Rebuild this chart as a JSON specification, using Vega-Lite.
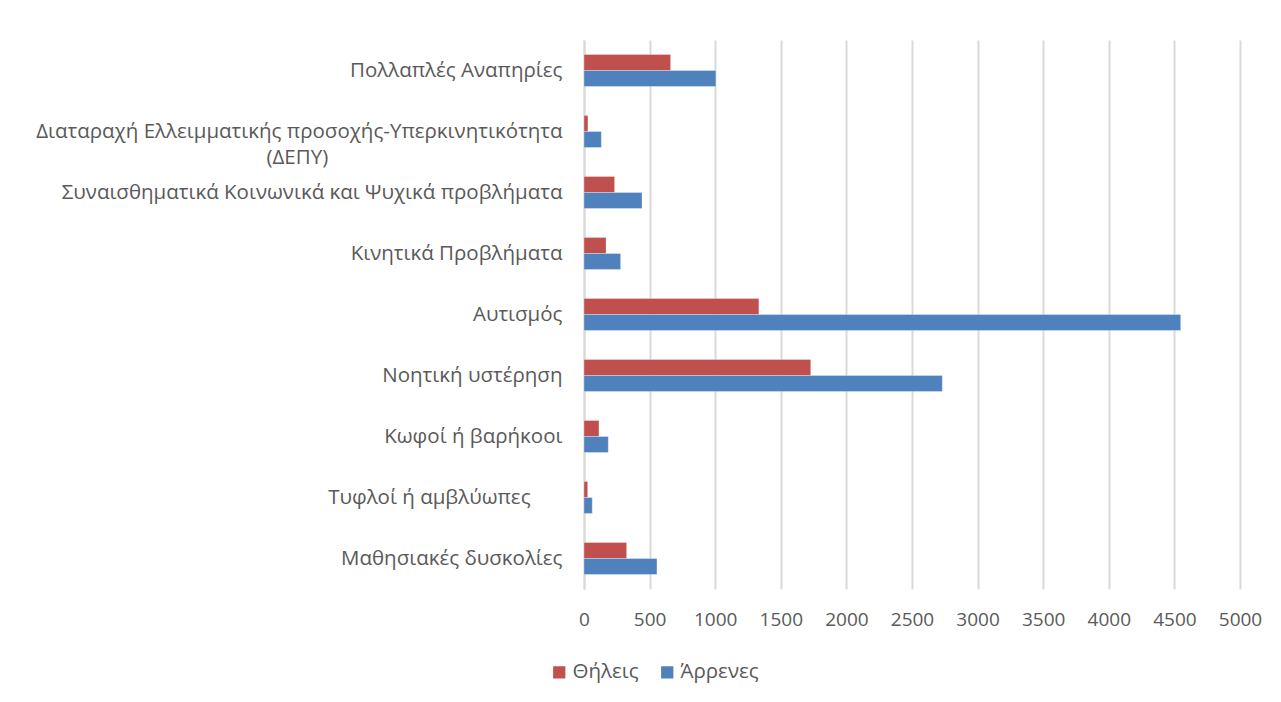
{
  "$schema": "https://vega.github.io/schema/vega-lite/v6.json",
  "autosize": {"type": "none"},
  "width": 656,
  "height": 549,
  "padding": {"left": 584, "top": 40, "right": 41, "bottom": 113},
  "background": "white",
  "config": {
    "font": "Open Sans",
    "view": {"stroke": null},
    "axis": {"labelColor": "#595959", "labelFont": "Open Sans"},
    "legend": {"labelFont": "Open Sans"}
  },
  "data": {
    "values": [
      {"cat": "Πολλαπλές Αναπηρίες", "sex": "Θήλεις", "v": 660},
      {"cat": "Πολλαπλές Αναπηρίες", "sex": "Άρρενες", "v": 1005},
      {"cat": "Διαταραχή Ελλειμματικής προσοχής-Υπερκινητικότητα|(ΔΕΠΥ)\u00a0\u00a0\u00a0\u00a0\u00a0\u00a0\u00a0\u00a0\u00a0\u00a0\u00a0\u00a0\u00a0\u00a0\u00a0\u00a0\u00a0\u00a0\u00a0\u00a0\u00a0\u00a0\u00a0\u00a0\u00a0\u00a0\u00a0\u00a0\u00a0\u00a0\u00a0\u00a0\u00a0\u00a0\u00a0\u00a0\u00a0\u00a0\u00a0\u00a0\u00a0\u00a0\u00a0\u00a0\u200b", "sex": "Θήλεις", "v": 30},
      {"cat": "Διαταραχή Ελλειμματικής προσοχής-Υπερκινητικότητα|(ΔΕΠΥ)\u00a0\u00a0\u00a0\u00a0\u00a0\u00a0\u00a0\u00a0\u00a0\u00a0\u00a0\u00a0\u00a0\u00a0\u00a0\u00a0\u00a0\u00a0\u00a0\u00a0\u00a0\u00a0\u00a0\u00a0\u00a0\u00a0\u00a0\u00a0\u00a0\u00a0\u00a0\u00a0\u00a0\u00a0\u00a0\u00a0\u00a0\u00a0\u00a0\u00a0\u00a0\u00a0\u00a0\u00a0\u200b", "sex": "Άρρενες", "v": 132},
      {"cat": "Συναισθηματικά Κοινωνικά και Ψυχικά προβλήματα", "sex": "Θήλεις", "v": 233},
      {"cat": "Συναισθηματικά Κοινωνικά και Ψυχικά προβλήματα", "sex": "Άρρενες", "v": 442},
      {"cat": "Κινητικά Προβλήματα", "sex": "Θήλεις", "v": 168},
      {"cat": "Κινητικά Προβλήματα", "sex": "Άρρενες", "v": 279},
      {"cat": "Αυτισμός", "sex": "Θήλεις", "v": 1333},
      {"cat": "Αυτισμός", "sex": "Άρρενες", "v": 4548},
      {"cat": "Νοητική υστέρηση", "sex": "Θήλεις", "v": 1728},
      {"cat": "Νοητική υστέρηση", "sex": "Άρρενες", "v": 2731},
      {"cat": "Κωφοί ή βαρήκοοι", "sex": "Θήλεις", "v": 114},
      {"cat": "Κωφοί ή βαρήκοοι", "sex": "Άρρενες", "v": 185},
      {"cat": "Τυφλοί ή αμβλύωπες\u00a0\u00a0\u00a0\u00a0\u00a0\u00a0\u200b", "sex": "Θήλεις", "v": 28},
      {"cat": "Τυφλοί ή αμβλύωπες\u00a0\u00a0\u00a0\u00a0\u00a0\u00a0\u200b", "sex": "Άρρενες", "v": 63},
      {"cat": "Μαθησιακές δυσκολίες", "sex": "Θήλεις", "v": 325},
      {"cat": "Μαθησιακές δυσκολίες", "sex": "Άρρενες", "v": 556}
    ]
  },
  "mark": {"type": "bar", "stroke": "white", "strokeWidth": 0.5, "strokeOpacity": 0.6},
  "encoding": {
    "y": {
      "field": "cat",
      "type": "nominal",
      "sort": null,
      "scale": {"paddingInner": 0.475, "paddingOuter": 0.2375},
      "axis": {
        "title": null,
        "ticks": false,
        "labelPadding": 22,
        "labelFontSize": 20.5,
        "labelLimit": 0,
        "labelExpr": "split(datum.label, '|')",
        "labelLineHeight": 26,
        "domainColor": "#d9d9d9",
        "domainWidth": 2
      }
    },
    "x": {
      "field": "v",
      "type": "quantitative",
      "scale": {"domain": [0, 5000], "nice": false},
      "axis": {
        "title": null,
        "values": [0, 500, 1000, 1500, 2000, 2500, 3000, 3500, 4000, 4500, 5000],
        "format": "d",
        "ticks": false,
        "domain": false,
        "grid": true,
        "gridColor": "#d9d9d9",
        "gridWidth": 2,
        "labelPadding": 21,
        "labelFontSize": 19,
        "labelFlush": false
      }
    },
    "yOffset": {"field": "sex", "sort": ["Θήλεις", "Άρρενες"]},
    "color": {
      "field": "sex",
      "type": "nominal",
      "sort": ["Θήλεις", "Άρρενες"],
      "scale": {"domain": ["Θήλεις", "Άρρενες"], "range": ["#c0504d", "#4f81bd"]},
      "legend": {
        "title": null,
        "orient": "none",
        "direction": "horizontal",
        "legendX": -35,
        "legendY": 622,
        "symbolType": "square",
        "symbolSize": 150,
        "symbolStrokeWidth": 0,
        "labelFontSize": 20.5,
        "labelColor": "#595959",
        "columnPadding": 18,
        "labelOffset": 3
      }
    }
  }
}
